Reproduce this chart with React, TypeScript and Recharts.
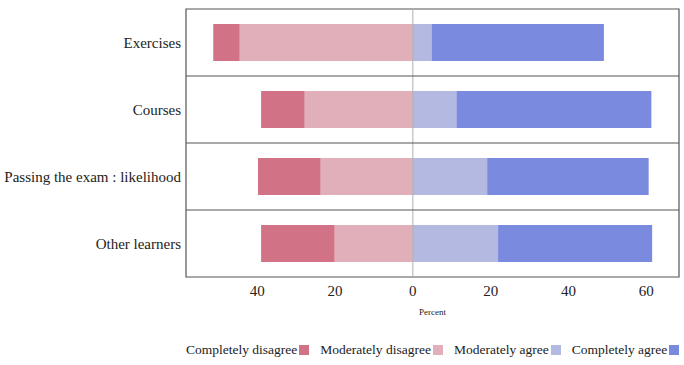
import React from "react";
import {
  BarChart,
  Bar,
  XAxis,
  YAxis,
  ReferenceLine,
  ReferenceArea,
  Legend,
} from "recharts";

const categories = ["Exercises", "Courses", "Passing the exam : likelihood", "Other learners"];
const completelyDisagree = [6.8, 11.2, 16.1, 18.9];
const moderatelyDisagree = [44.5, 27.8, 23.7, 20.1];
const moderatelyAgree = [4.8, 11.2, 19.1, 21.9];
const completelyAgree = [44.3, 50.1, 41.5, 39.6];
const xTicks = [-40, -20, 0, 20, 40, 60];

const SERIES = [
  { key: "cd", name: "Completely disagree", color: "#D27286" },
  { key: "md", name: "Moderately disagree", color: "#E0AFB9" },
  { key: "ma", name: "Moderately agree", color: "#B4B9E1" },
  { key: "ca", name: "Completely agree", color: "#7A8ADF" },
];

const FONT = "Liberation Serif";
const BORDER = "#555555";

const rows = categories.map((name, i) => ({
  name,
  pos: i + 0.5,
  // disagree sides go left of zero
  md: -moderatelyDisagree[i],
  cd: -completelyDisagree[i],
  ma: moderatelyAgree[i],
  ca: completelyAgree[i],
}));

function CategoryTick(props: any) {
  const { x, y, payload } = props;
  return (
    <text
      x={x}
      y={y}
      dy="0.35em"
      textAnchor="end"
      fontSize={15}
      fill="#222"
      fontFamily={FONT}
    >
      {categories[Math.floor(payload.value)]}
    </text>
  );
}

function LikertLegend() {
  return (
    <div
      style={{
        display: "flex",
        alignItems: "center",
        paddingLeft: 186,
        paddingTop: 17,
        height: 48,
        boxSizing: "border-box",
        fontFamily: FONT,
        fontSize: 13.5,
        color: "#222",
        whiteSpace: "nowrap",
      }}
    >
      {SERIES.map((s) => (
        <div
          key={s.key}
          style={{ display: "flex", alignItems: "center", marginRight: 11, flexShrink: 0 }}
        >
          <span>{s.name}</span>
          <span
            style={{
              display: "inline-block",
              width: 10,
              height: 10,
              marginLeft: 2,
              background: s.color,
            }}
          />
        </div>
      ))}
    </div>
  );
}

export default function App() {
  return (
    <div style={{ position: "absolute", left: 0, top: 0, fontFamily: FONT }}>
      <BarChart
        width={684}
        height={365}
        data={rows}
        layout="vertical"
        stackOffset="sign"
        margin={{ top: 0, right: 5, bottom: 0, left: 0 }}
      >
        <XAxis
          xAxisId="top"
          orientation="top"
          type="number"
          domain={[-58.3, 68.4]}
          ticks={xTicks}
          tick={false}
          tickSize={6}
          height={9}
          axisLine={false}
          tickLine={{ stroke: BORDER }}
        />
        <XAxis
          type="number"
          domain={[-58.3, 68.4]}
          ticks={xTicks}
          tickFormatter={(v) => String(Math.abs(v))}
          tickLine={false}
          axisLine={false}
          height={40}
          tick={{ fontSize: 15, fill: "#222", fontFamily: FONT }}
          label={{
            value: "Percent",
            position: "insideBottom",
            offset: 2,
            fontSize: 9,
            fill: "#222",
            fontFamily: FONT,
          }}
        />
        <YAxis
          type="number"
          dataKey="pos"
          domain={[0, 4]}
          ticks={rows.map((r) => r.pos)}
          width={186}
          tickLine={false}
          axisLine={false}
          tickSize={5}
          tickMargin={0}
          tick={<CategoryTick />}
        />
        <Legend verticalAlign="bottom" content={() => <LikertLegend />} />
        <Bar dataKey="md" stackId="s" fill={SERIES[1].color} barSize={37} isAnimationActive={false} />
        <Bar dataKey="cd" stackId="s" fill={SERIES[0].color} barSize={37} isAnimationActive={false} />
        <Bar dataKey="ma" stackId="s" fill={SERIES[2].color} barSize={37} isAnimationActive={false} />
        <Bar dataKey="ca" stackId="s" fill={SERIES[3].color} barSize={37} isAnimationActive={false} />
        <ReferenceLine x={0} stroke="#b0b0b0" strokeWidth={1} />
        {[1, 2, 3].map((y) => (
          <ReferenceLine key={y} y={y} stroke={BORDER} strokeWidth={1.2} />
        ))}
        <ReferenceArea x1={-58.3} x2={68.4} y1={0} y2={4} fill="none" stroke={BORDER} strokeWidth={1.2} />
      </BarChart>
    </div>
  );
}
